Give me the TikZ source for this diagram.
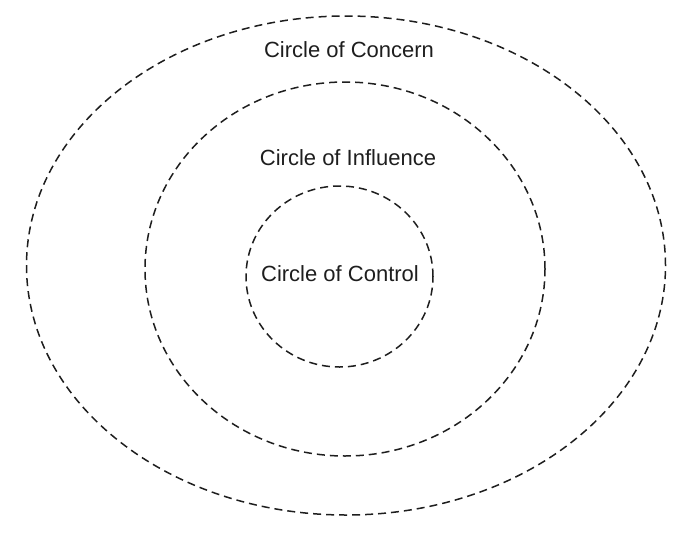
\documentclass[tikz,border=0pt]{standalone}
\usepackage{fontspec}
\setmainfont{Liberation Sans}
\usetikzlibrary{shapes.geometric}
\definecolor{ink}{HTML}{1E1E1E}
\tikzset{
  ring/.style={draw=ink, ellipse, inner sep=0pt, line width=1.5pt, dash pattern=on 8pt off 5pt},
  label/.style={text=ink, font=\fontsize{22}{26}\selectfont, inner sep=0pt}
}
\begin{document}
\begin{tikzpicture}[x=1pt,y=-1pt]
\useasboundingbox (0,0) rectangle (685,544);
\node[ring, minimum width=639pt, minimum height=499pt] (concern) at (346,265.5) {};
\node[ring, minimum width=400pt, minimum height=374pt] (influence) at (345,269) {};
\node[ring, minimum width=187pt, minimum height=181pt] (control) at (339.5,276.5) {};
\node[label] (tconcern) at (349,50) {Circle of Concern};
\node[label] (tinfluence) at (348,158) {Circle of Influence};
\node[label] (tcontrol) at (340,274) {Circle of Control};
\end{tikzpicture}
\end{document}
